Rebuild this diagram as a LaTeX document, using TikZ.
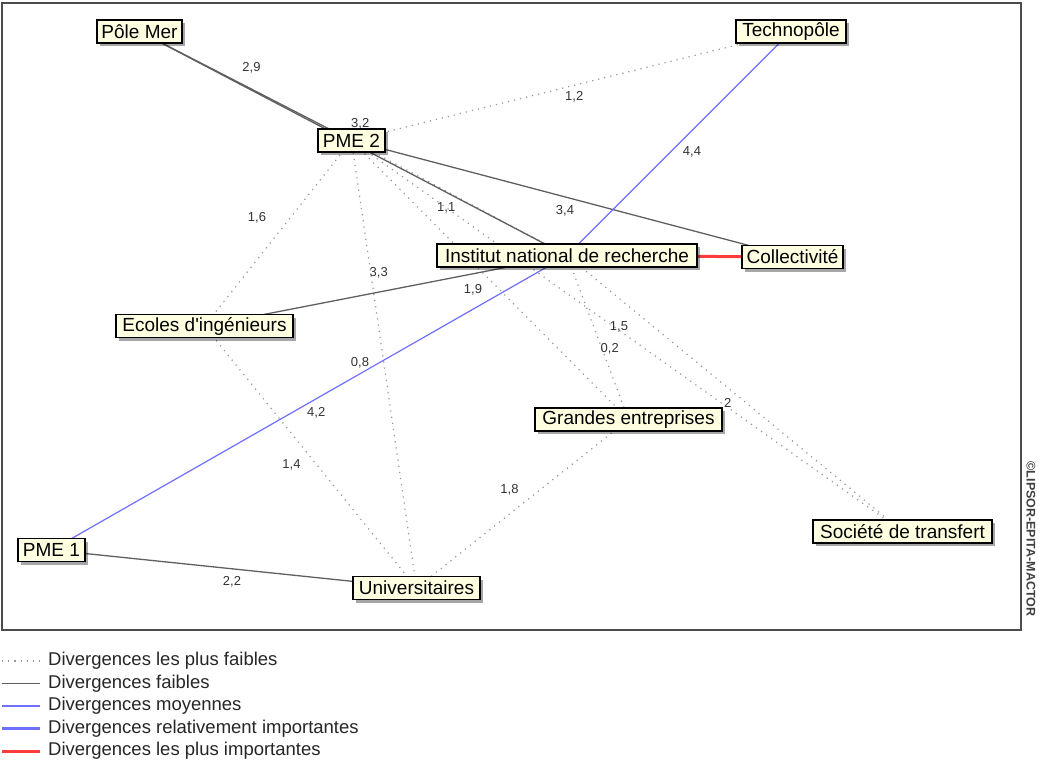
\documentclass[tikz,border=0pt]{standalone}
\usepackage{fontspec}
\setmainfont{Liberation Sans}
\usetikzlibrary{shadows,backgrounds}

\definecolor{tipyellow}{RGB}{255,255,225}
\definecolor{divblue}{RGB}{110,110,255}
\definecolor{divred}{RGB}{255,60,60}
\definecolor{divgray}{RGB}{95,95,95}
\definecolor{dotgray}{RGB}{150,150,150}

\tikzset{
  actor/.style={draw=black, line width=1.3pt, fill=tipyellow, minimum height=23pt, inner sep=0pt,
    font=\fontsize{19}{21}\selectfont,
    drop shadow={shadow xshift=3pt, shadow yshift=-3pt, fill=black, opacity=0.35}},
  weakest/.style={dotgray, line width=1.2pt, dash pattern=on 1.2pt off 5pt},
  weak/.style={divgray, line width=1.3pt},
  medium/.style={divblue, line width=1.2pt},
  strong/.style={divblue, line width=3pt},
  strongest/.style={divred, line width=3pt},
  val/.style={font=\fontsize{13}{14}\selectfont, text=black!80, inner sep=1pt},
  legtext/.style={font=\fontsize{18.5}{20}\selectfont, text=black!85, inner sep=0pt, anchor=west},
}

\begin{document}
\begin{tikzpicture}[x=1pt, y=-1pt]
\useasboundingbox (0,0) rectangle (1039,763);
\draw[black!70, line width=1.5pt] (2,3) rectangle (1021,630);

\node[actor, minimum width=85pt] (pole) at (139.5,31.5) {Pôle Mer};
\node[actor, minimum width=110pt] (techno) at (791,31.5) {Technopôle};
\node[actor, minimum width=67pt] (pme2) at (351.5,140.5) {PME 2};
\node[actor, minimum width=260pt] (inr) at (567,255.5) {Institut national de recherche};
\node[actor, minimum width=101pt] (coll) at (792.5,257) {Collectivité};
\node[actor, minimum width=177pt] (ecoles) at (204.5,326) {Ecoles d\textquotesingle ingénieurs};
\node[actor, minimum width=187pt] (grandes) at (628.5,419.5) {Grandes entreprises};
\node[actor, minimum width=179pt] (societe) at (902.5,531.5) {Société de transfert};
\node[actor, minimum width=67pt] (pme1) at (51.5,550) {PME 1};
\node[actor, minimum width=127pt] (univ) at (416.5,588) {Universitaires};

\node[rotate=-90, font=\bfseries\fontsize{12.5}{14}\selectfont, text=black!75, inner sep=0pt] (copy) at (1031,539) {\textcopyright LIPSOR-EPITA-MACTOR};

\begin{scope}[on background layer]
\draw[weakest] (pme2.center) -- node[val, shift={(3,11)}] {1,2} (techno.center);
\draw[weakest] (pme2.center) -- node[val, shift={(-21,-15)}] {1,6} (ecoles.center);
\draw[weakest] (pme2.center) -- node[val, shift={(-13,10)}] {1,1} (inr.center);
\draw[weakest] (pme2.center) -- node[val, shift={(-17,10)}] {1,9} (grandes.center);
\draw[weakest] (pme2.center) -- node[val, shift={(-8,-9)}] {1,5} (societe.center);
\draw[weakest] (pme2.center) -- node[val, shift={(-24,-1)}] {0,8} (univ.center);
\draw[weakest] (inr.center) -- node[val, shift={(12,11)}] {0,2} (grandes.center);
\draw[weakest] (inr.center) -- node[val, shift={(-7,9)}] {2} (societe.center);
\draw[weakest] (ecoles.center) -- node[val, shift={(-19,8)}] {1,4} (univ.center);
\draw[weakest] (univ.center) -- node[val, shift={(-13,-14)}] {1,8} (grandes.center);

\draw[weak] (pole.center) -- node[val, shift={(6,-18)}] {2,9} (pme2.center);
\draw[weak] (pole.center) -- node[val, shift={(7,-20)}] {3,2} (inr.center);
\draw[weak] (pme2.center) -- node[val, shift={(-7,12)}] {3,4} (coll.center);
\draw[weak] (ecoles.center) -- node[val, shift={(-7,-18)}] {3,3} (inr.center);
\draw[weak] (pme1.center) -- node[val, shift={(-2,13)}] {2,2} (univ.center);

\draw[medium] (techno.center) -- node[val, shift={(13,8)}] {4,4} (inr.center);
\draw[medium] (pme1.center) -- node[val, shift={(7,10)}] {4,2} (inr.center);

\draw[strongest] (inr.center) -- (coll.center);
\end{scope}

\foreach \sty/\txt [count=\i from 0] in {weakest/Divergences les plus faibles, weak/Divergences faibles, medium/Divergences moyennes, strong/Divergences relativement importantes, strongest/Divergences les plus importantes} {
  \node[legtext] (leg\i) at (48,{661+22.5*\i}) {\txt};
  \draw[\sty] ([xshift=-46pt]leg\i.west) -- ([xshift=-8pt]leg\i.west);
}
\end{tikzpicture}
\end{document}
